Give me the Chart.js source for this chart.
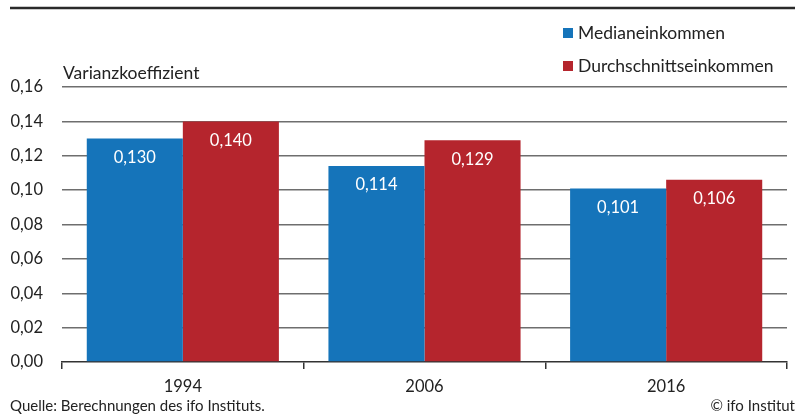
<!DOCTYPE html>
<html>
<head>
<meta charset="utf-8">
<script src="https://cdn.jsdelivr.net/npm/chart.js@4"></script>
<style>
  html, body { margin: 0; padding: 0; background: #fff; }
  #wrap { width: 798px; height: 414px; position: relative; }
</style>
</head>
<body>
<div id="wrap"><canvas id="myChart" width="798" height="414"></canvas></div>
<script>
const years = ['1994', '2006', '2016'];
const median = [0.130, 0.114, 0.101];
const mean = [0.140, 0.129, 0.106];
const seriesNames = ['Medianeinkommen', 'Durchschnittseinkommen'];
const colors = ['#1574ba', '#b5252d'];

const FONT = 'Lato, "Noto Sans", sans-serif';
const TEXT = '#222';

function fmt(v, d) {
  return v.toFixed(d).replace('.', ',');
}

const extras = {
  id: 'extras',
  afterDraw(chart) {
    const ctx = chart.ctx;
    ctx.save();
    // top rule
    ctx.strokeStyle = '#2a2a2a';
    ctx.lineWidth = 2.5;
    ctx.beginPath();
    ctx.moveTo(10, 8);
    ctx.lineTo(795, 8);
    ctx.stroke();

    ctx.font = '17.5px ' + FONT;
    ctx.fillStyle = TEXT;
    ctx.textBaseline = 'middle';
    ctx.textAlign = 'left';
    ctx.fillText('Varianzkoeffizient', 63, 73);

    // legend
    ctx.font = '17.5px ' + FONT;
    seriesNames.forEach((name, i) => {
      const y = 33 + i * 33;
      ctx.fillStyle = colors[i];
      ctx.fillRect(563, y - 5, 10, 10);
      ctx.fillStyle = TEXT;
      ctx.fillText(name, 578, y);
    });

    // source lines
    ctx.font = '15px ' + FONT;
    ctx.fillText('Quelle: Berechnungen des ifo Instituts.', 10, 406);
    ctx.textAlign = 'right';
    ctx.fillText('\u00a9 ifo Institut', 795, 406);

    // value labels
    ctx.font = '16.5px ' + FONT;
    ctx.fillStyle = '#fff';
    ctx.textAlign = 'center';
    chart.data.datasets.forEach((ds, i) => {
      chart.getDatasetMeta(i).data.forEach((bar, j) => {
        ctx.fillText(fmt(ds.data[j], 3), bar.x, bar.y + 19);
      });
    });
    ctx.restore();
  }
};

const ctx = document.getElementById('myChart').getContext('2d');
new Chart(ctx, {
  type: 'bar',
  data: {
    labels: years,
    datasets: [
      { label: seriesNames[0], data: median, backgroundColor: colors[0] },
      { label: seriesNames[1], data: mean, backgroundColor: colors[1] }
    ]
  },
  options: {
    responsive: false,
    animation: false,
    layout: { padding: { top: 87, right: 11, left: 0, bottom: 0 } },
    categoryPercentage: 0.795,
    barPercentage: 1,
    plugins: {
      legend: { display: false },
      tooltip: { enabled: false }
    },
    scales: {
      x: {
        grid: {
          offset: true,
          drawOnChartArea: false,
          drawTicks: true,
          tickLength: 7,
          color: '#333',
          lineWidth: 1.5
        },
        border: { display: true, color: '#333', width: 1.5 },
        ticks: {
          color: TEXT,
          font: { family: FONT, size: 16.5 },
          padding: 8
        },
        afterFit(scale) { scale.height = 52; }
      },
      y: {
        min: 0,
        max: 0.16,
        ticks: {
          stepSize: 0.02,
          color: TEXT,
          font: { family: FONT, size: 16.5 },
          padding: 19,
          callback: (v) => fmt(v, 2)
        },
        grid: {
          drawTicks: false,
          color: (c) => c.tick && c.tick.value === 0 ? 'rgba(0,0,0,0)' : '#6e6e6e',
          lineWidth: 1.5
        },
        border: { display: false },
        afterFit(scale) { scale.width = 62; }
      }
    }
  },
  plugins: [extras]
});
</script>
</body>
</html>
